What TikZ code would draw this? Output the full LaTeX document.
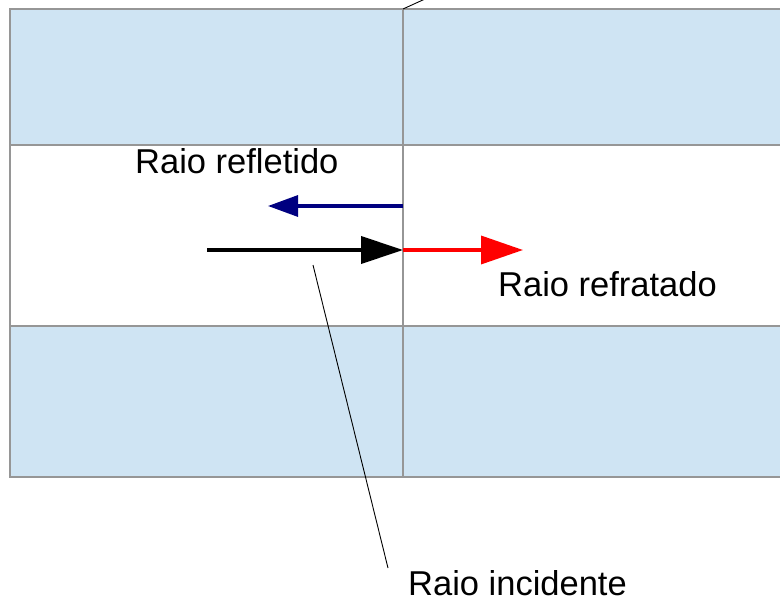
\documentclass[tikz,border=0pt]{standalone}
\usepackage{fontspec}
\setmainfont{Liberation Sans}
\usetikzlibrary{arrows.meta}
\definecolor{layerblue}{RGB}{207,228,243}
\definecolor{edgegray}{RGB}{150,150,150}
\definecolor{navyray}{RGB}{0,0,128}
\tikzset{
  layer/.style={fill=layerblue, draw=edgegray, line width=1.2pt},
  ray/.style={line width=3.6pt},
  lbl/.style={inner sep=0pt, anchor=west, font=\fontsize{34.5}{40}\selectfont},
  leader/.style={line width=0.9pt, black}
}
\begin{document}
\begin{tikzpicture}[x=1pt,y=-1pt]
  \useasboundingbox (0,0) rectangle (780,599);
  % layered media
  \path[layer] (783,9) -- (10,9) -- (10,145) -- (783,145);
  \path[layer] (783,326) -- (10,326) -- (10,477) -- (783,477);
  \draw[edgegray, line width=1.2pt] (10,145) -- (10,326);
  % normal / interface line
  \coordinate (ntop) at (403,9);
  \coordinate (nbot) at (403,477);
  \draw[edgegray, line width=1.2pt] (ntop) -- (nbot);
  \coordinate (ntip) at (425,-1);
  \draw[leader] (ntop) -- (ntip);
  % rays
  \coordinate (hit) at (403,250);
  \coordinate (rhit) at (403,206);
  \coordinate (start) at (207,250);
  \coordinate (reflend) at (268,206);
  \coordinate (refrend) at (523,250);
  \draw[ray, navyray, line width=3.2pt, -{Triangle[length=30pt,width=21pt]}] (rhit) -- (reflend);
  \draw[ray, red, -{Triangle[length=42pt,width=28pt]}] (hit) -- (refrend);
  \draw[ray, black, line width=4pt, -{Triangle[length=42pt,width=27pt]}] (start) -- (hit);
  % labels
  \node[lbl] (refl) at (135,161) {Raio refletido};
  \node[lbl] (refr) at (498,284) {Raio refratado};
  \node[lbl] (inc) at (408,583) {Raio incidente};
  % leader from the incident ray to its label
  \coordinate (incfoot) at (313,265);
  \coordinate (incend) at (388,568);
  \draw[leader] (incfoot) -- (incend);
\end{tikzpicture}
\end{document}
